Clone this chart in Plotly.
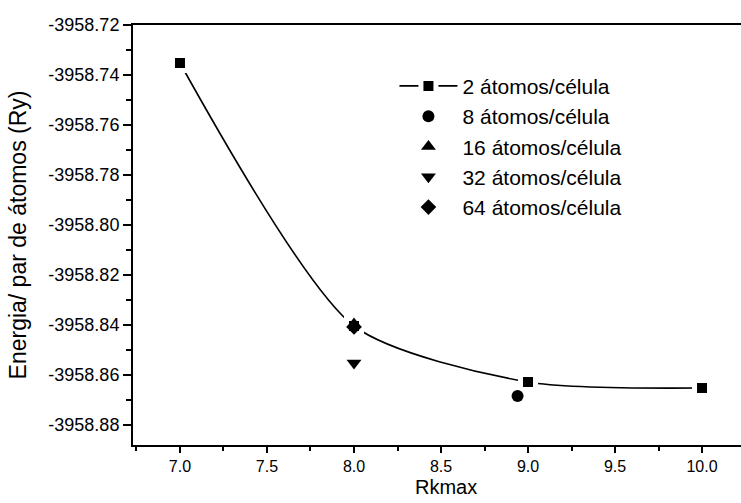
import plotly.graph_objects as go

# Total energy per atom pair vs. Rkmax for different supercell sizes
rk_2 = [7.0, 8.0, 9.0, 10.0]
e_2 = [-3958.7352, -3958.8404, -3958.8628, -3958.8652]

rk_8 = [8.94]
e_8 = [-3958.8684]

rk_16 = [8.0]
e_16 = [-3958.8396]

rk_32 = [8.0]
e_32 = [-3958.8552]

rk_64 = [8.0]
e_64 = [-3958.8408]

y_ticks = [-3958.72, -3958.74, -3958.76, -3958.78, -3958.80,
           -3958.82, -3958.84, -3958.86, -3958.88]
y_tick_labels = ["-3958.72", "-3958.74", "-3958.76", "-3958.78", "-3958.80",
                 "-3958.82", "-3958.84", "-3958.86", "-3958.88"]
x_ticks = [7.0, 7.5, 8.0, 8.5, 9.0, 9.5, 10.0]
x_tick_labels = ["7.0", "7.5", "8.0", "8.5", "9.0", "9.5", "10.0"]

FONT = "Liberation Sans, Arial, sans-serif"

fig = go.Figure()

fig.add_trace(go.Scatter(
    x=rk_2, y=e_2, mode="lines+markers", name="2 átomos/célula",
    line=dict(color="black", width=1.6, shape="spline", smoothing=0.7),
    marker=dict(symbol="square", size=15, color="black",
                line=dict(color="white", width=5)),
    legendgroup="a"))
fig.add_trace(go.Scatter(
    x=rk_8, y=e_8, mode="markers", name="8 átomos/célula",
    marker=dict(symbol="circle", size=12, color="black"), legendgroup="b"))
fig.add_trace(go.Scatter(
    x=rk_16, y=e_16, mode="markers", name="16 átomos/célula",
    marker=dict(symbol="triangle-up", size=13, color="black"), legendgroup="c"))
fig.add_trace(go.Scatter(
    x=rk_32, y=e_32, mode="markers", name="32 átomos/célula",
    marker=dict(symbol="triangle-down", size=13, color="black"), legendgroup="d"))
fig.add_trace(go.Scatter(
    x=rk_64, y=e_64, mode="markers", name="64 átomos/célula",
    marker=dict(symbol="diamond", size=12, color="black"), legendgroup="e"))

fig.update_layout(
    width=741, height=503,
    margin=dict(l=133, r=0, t=25, b=58),
    paper_bgcolor="white", plot_bgcolor="white",
    font=dict(family=FONT, color="black"),
    showlegend=True,
    legend=dict(x=0.43, y=0.903, xanchor="left", yanchor="top",
                font=dict(size=21, family=FONT), bgcolor="rgba(0,0,0,0)",
                tracegroupgap=0, traceorder="grouped", itemwidth=58),
    xaxis=dict(
        range=[6.73, 10.224], showgrid=False, zeroline=False,
        showline=True, linecolor="black", linewidth=2, mirror=True,
        ticks="outside", ticklen=6, tickwidth=2, tickcolor="black",
        tickvals=x_ticks, ticktext=x_tick_labels,
        tickfont=dict(size=16),
        minor=dict(ticks="outside", ticklen=4, tickwidth=2, dtick=0.25,
                   tick0=7.0, tickcolor="black"),
    ),
    yaxis=dict(
        range=[-3958.888, -3958.72], showgrid=False, zeroline=False,
        showline=True, linecolor="black", linewidth=2, mirror=False,
        ticks="outside", ticklen=8, tickwidth=2, tickcolor="black",
        tickvals=y_ticks, ticktext=y_tick_labels,
        tickfont=dict(size=18),
        minor=dict(ticks="outside", ticklen=5, tickwidth=2, dtick=0.01,
                   tick0=-3958.72, tickcolor="black"),
        title=dict(text="Energia/ par de átomos (Ry)", font=dict(size=23)),
    ),
    annotations=[dict(
        text="Rkmax", xref="paper", yref="paper", x=0.515, y=-0.131,
        xanchor="center", yanchor="bottom", showarrow=False,
        font=dict(size=20, family=FONT, color="black"),
    )],
)

fig.write_html("out.html")
